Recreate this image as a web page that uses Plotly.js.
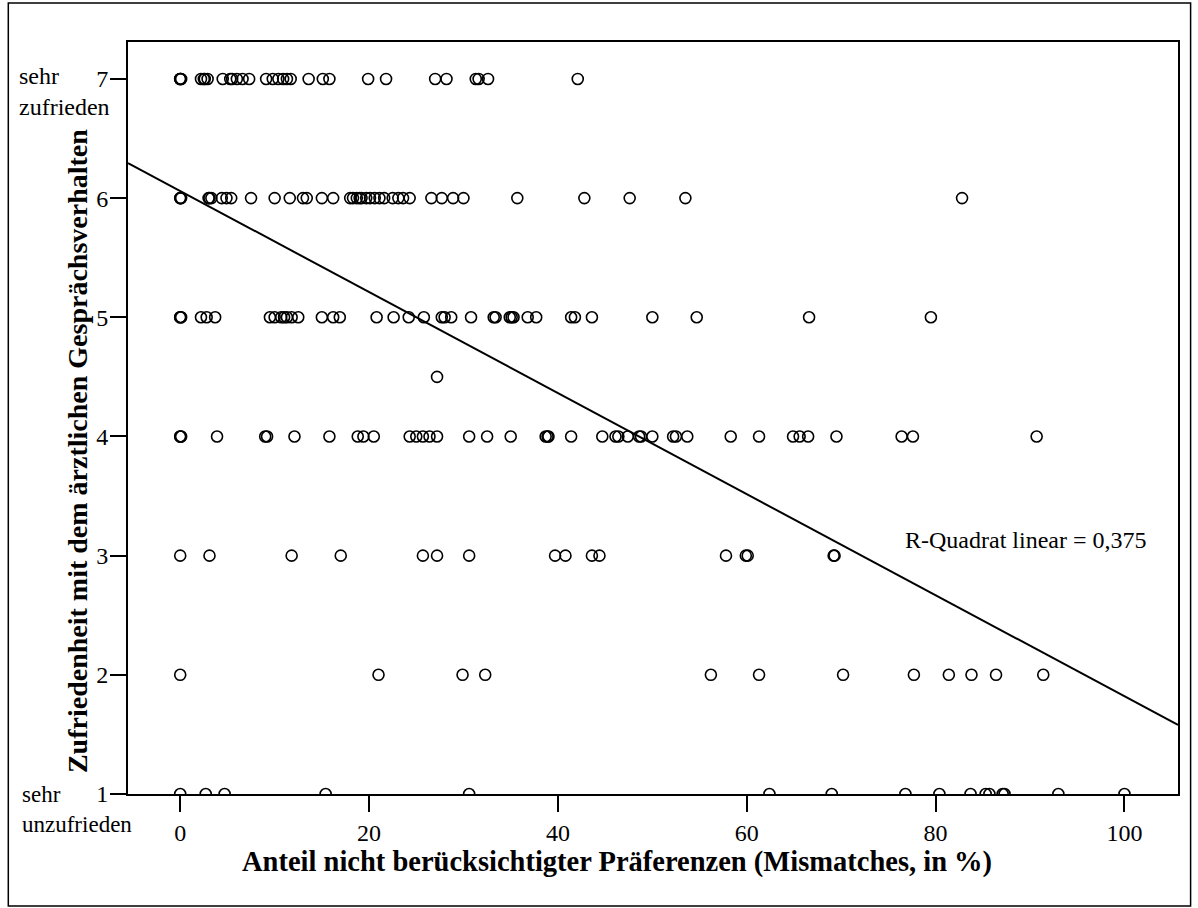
<!DOCTYPE html>
<html>
<head>
<meta charset="utf-8">
<script src="https://cdn.plot.ly/plotly-3.0.1.min.js"></script>
<style>html,body{margin:0;padding:0;background:#fff;}#chart{width:1198px;height:908px;}</style>
</head>
<body>
<div id="chart"></div>
<script>
// Mismatch share (%) per satisfaction level
const level7 = [0,0,0,0.1,2.2,2.5,2.6,2.9,4.5,5.3,5.5,6.0,6.6,7.3,9.1,9.8,10.4,10.9,11.3,11.7,13.6,15.1,15.8,19.9,21.8,27.0,28.2,31.3,31.6,32.6,42.1];
const level6 = [0,0,0.1,3.0,3.1,3.3,4.4,4.9,5.4,7.5,10.0,11.6,13.0,13.4,15.0,16.2,18.0,18.3,18.7,19.0,19.2,19.7,20.1,20.6,21.1,21.6,22.5,23.1,23.6,24.3,26.6,27.7,28.9,30.0,35.7,42.8,47.6,53.5,82.8];
const level5 = [0,0,0.1,2.2,2.8,3.7,9.5,10.0,10.7,11.0,11.3,11.8,12.5,15.0,16.2,16.9,20.8,22.6,24.2,25.8,27.7,28.0,28.7,30.8,33.2,33.4,34.9,35.1,35.3,36.8,37.7,41.4,41.8,43.6,50.0,54.7,66.6,79.5];
const level45 = [27.2];
const level4 = [0,0,0.1,3.9,9.0,9.2,12.1,15.8,18.8,19.4,20.5,24.3,25.0,25.7,26.4,27.2,30.6,32.5,35.0,38.7,38.9,39.0,41.4,44.7,46.1,46.4,47.4,48.6,48.8,50.0,52.2,52.5,53.7,58.3,61.3,64.9,65.6,66.5,69.5,76.4,77.6,90.7];
const level3 = [0,3.1,11.8,17.0,25.7,27.2,30.6,39.7,40.8,43.6,44.4,57.8,59.9,60.1,69.2,69.3];
const level2 = [0,21.0,29.9,32.3,56.2,61.3,70.2,77.7,81.4,83.8,86.4,91.4];
const level1 = [0,2.7,4.7,15.4,30.6,62.4,69.0,76.8,80.4,83.7,85.3,85.7,87.1,87.3,93.0,100.0];

const levels = [[7, level7],[6, level6],[5, level5],[4.5, level45],[4, level4],[3, level3],[2, level2],[1, level1]];

// Linear fit
const fitIntercept = 6.06;
const fitSlope = -0.0424;
const rSquaredLabel = 'R-Quadrat linear = 0,375';

const xRange = [-5.53, 105.67];
const yRange = [1, 7.31];
const xTicks = [0, 20, 40, 60, 80, 100];
const yTicks = [1, 2, 3, 4, 5, 6, 7];

const xs = [], ys = [];
levels.forEach(([lv, arr]) => arr.forEach(v => { xs.push(v); ys.push(lv); }));

const FONT = 'Liberation Serif, Times New Roman, serif';
const TXT = 24;

const traces = [
  {
    x: xs, y: ys, type: 'scatter', mode: 'markers',
    marker: {symbol: 'circle-open', size: 11, color: '#000', line: {color: '#000', width: 1.6}},
    hoverinfo: 'x+y', showlegend: false
  },
  {
    x: xRange, y: xRange.map(v => fitIntercept + fitSlope * v),
    type: 'scatter', mode: 'lines', line: {color: '#000', width: 2},
    hoverinfo: 'skip', showlegend: false
  }
];

const layout = {
  width: 1198, height: 908,
  margin: {l: 128, r: 20, t: 42, b: 114},
  paper_bgcolor: '#fff', plot_bgcolor: '#fff',
  font: {family: FONT, size: TXT, color: '#000'},
  showlegend: false,
  xaxis: {
    range: xRange, tickvals: xTicks, ticktext: xTicks.map(String),
    showgrid: false, zeroline: false, showline: true, mirror: true,
    linecolor: '#000', linewidth: 2,
    ticks: 'outside', ticklen: 16, tickwidth: 2, tickcolor: '#000',
    tickfont: {family: FONT, size: TXT, color: '#000'}
  },
  yaxis: {
    range: yRange, tickvals: yTicks, ticktext: yTicks.map(String),
    showgrid: false, zeroline: false, showline: true, mirror: true,
    linecolor: '#000', linewidth: 2,
    ticks: 'outside', ticklen: 16, tickwidth: 2, tickcolor: '#000',
    ticklabelstandoff: -3,
    tickfont: {family: FONT, size: TXT, color: '#000'}
  },
  annotations: [
    {text: rSquaredLabel, x: 76.5, y: 3.13, xref: 'x', yref: 'y', xanchor: 'left', yanchor: 'middle',
     showarrow: false, font: {family: FONT, size: TXT, color: '#000'}},
    {text: '<b>Anteil nicht berücksichtigter Präferenzen (Mismatches, in %)</b>', x: 0.466, y: -0.0904,
     xref: 'paper', yref: 'paper', xanchor: 'center', yanchor: 'middle', showarrow: false,
     font: {family: FONT, size: 28.5, color: '#000'}},
    {text: '<b>Zufriedenheit mit dem ärztlichen Gesprächsverhalten</b>', x: -0.0486, y: 0.456,
     xref: 'paper', yref: 'paper', xanchor: 'center', yanchor: 'middle', textangle: -90, showarrow: false,
     font: {family: FONT, size: 28, color: '#000'}},
    {text: 'sehr<br>zufrieden', x: -0.1057, y: 0.934, xref: 'paper', yref: 'paper',
     xanchor: 'left', yanchor: 'middle', align: 'left', showarrow: false,
     font: {family: FONT, size: TXT, color: '#000'}},
    {text: 'sehr<br>unzufrieden', x: -0.1029, y: -0.02, xref: 'paper', yref: 'paper',
     xanchor: 'left', yanchor: 'middle', align: 'left', showarrow: false,
     font: {family: FONT, size: 23, color: '#000'}}
  ],
  shapes: [
    {type: 'rect', xref: 'paper', yref: 'paper', x0: -0.114, x1: 1.012, y0: -0.149, y1: 1.052,
     line: {color: '#000', width: 1.5}, fillcolor: 'rgba(0,0,0,0)', layer: 'below'}
  ]
};

Plotly.newPlot('chart', traces, layout, {staticPlot: true, displayModeBar: false});
</script>
</body>
</html>
